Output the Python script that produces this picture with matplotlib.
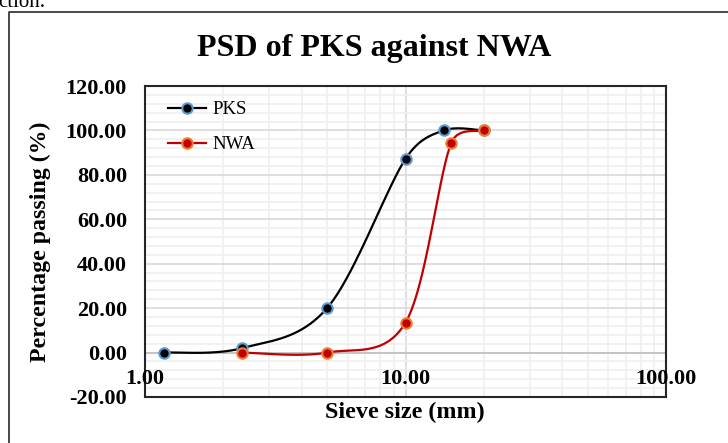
import numpy as np
import matplotlib
matplotlib.use('Agg')
import matplotlib.pyplot as plt
from matplotlib.lines import Line2D

# Data
pks_size = [1.18, 2.36, 5.0, 10.0, 14.0, 20.0]
pks_pass = [0.0, 2.0, 20.0, 87.2, 100.0, 100.0]
nwa_size = [2.36, 5.0, 10.0, 15.0, 20.0]
nwa_pass = [0.0, 0.0, 13.5, 94.5, 100.0]

x_ticks = [1, 10, 100]
x_tick_labels = ['1.00', '10.00', '100.00']
y_ticks = np.arange(-20, 121, 20)

plt.rcParams['font.family'] = ['Liberation Serif', 'DejaVu Serif']

W, H = 728, 443
fig = plt.figure(figsize=(W / 100, H / 100), dpi=100)
ax = fig.add_axes([145 / W, 1 - 397 / H, 521 / W, 311 / H])
ax.set_xscale('log')
ax.set_xlim(1, 100)
ax.set_ylim(-20, 120)

ax_w, ax_h = 521.0, 311.0


def arm(vec, seg_len):
    # control arm of 1/6 the neighbour chord, capped at half the segment
    a = vec / 6
    n = np.hypot(*a)
    if n > seg_len / 2 and n > 0:
        a = a * (seg_len / 2) / n
    return a


def smooth(xs, ys, n=40):
    # Excel-like smoothed line: bezier in screen space
    u = np.log10(xs) / 2 * ax_w
    v = (np.array(ys) + 20) / 140 * ax_h
    pts = np.column_stack([u, v])
    p = np.vstack([pts[0], pts, pts[-1]])
    out = []
    t = np.linspace(0, 1, n)[:, None]
    for i in range(1, len(p) - 2):
        p0, p1, p2, p3 = p[i - 1], p[i], p[i + 1], p[i + 2]
        seg = np.hypot(*(p2 - p1))
        b1 = p1 + arm(p2 - p0, seg)
        b2 = p2 - arm(p3 - p1, seg)
        c = ((1 - t) ** 3) * p1 + 3 * ((1 - t) ** 2) * t * b1 + 3 * (1 - t) * t ** 2 * b2 + t ** 3 * p2
        out.append(c)
    out = np.vstack(out)
    sx = 10 ** (out[:, 0] / ax_w * 2)
    sy = out[:, 1] / ax_h * 140 - 20
    return sx, sy


# grid
ax.set_xticks(x_ticks)
ax.set_xticks([m * d for d in (1, 10) for m in range(2, 10)], minor=True)
ax.set_yticks(y_ticks)
ax.set_yticks(np.arange(-20, 121, 4), minor=True)
ax.grid(which='minor', color='#EFEFEF', linewidth=1.2)
ax.grid(which='major', color='#D9D9D9', linewidth=1.2)
ax.axhline(0, color='#BFBFBF', linewidth=1.2, zorder=1)
ax.set_axisbelow(True)

sx, sy = smooth(pks_size, pks_pass)
ax.plot(sx, sy, color='black', linewidth=1.6, zorder=3)
sx, sy = smooth(nwa_size, nwa_pass)
ax.plot(sx, sy, color='#C00000', linewidth=1.6, zorder=3)
ax.plot(pks_size, pks_pass, 'o', color='black', markeredgecolor='#5B9BD5',
        markersize=7.5, markeredgewidth=1.5, zorder=4)
ax.plot(nwa_size, nwa_pass, 'o', color='#C00000', markeredgecolor='#ED7D31',
        markersize=7.5, markeredgewidth=1.5, zorder=5)

# axis labels in Excel style
ax.tick_params(which='both', length=0)
ax.set_yticklabels([f'{v:.2f}' for v in y_ticks], fontsize=16, fontweight='bold')
ax.tick_params(axis='y', pad=13)
ax.set_xticklabels([])
for xv, lab in zip(x_ticks, x_tick_labels):
    ax.text(xv, -11.8, lab, ha='center', va='center', fontsize=16,
            fontweight='bold', zorder=6)

for sp in ax.spines.values():
    sp.set_color('#262626')
    sp.set_linewidth(1.5)

handles = [
    Line2D([], [], color='black', linewidth=1.6, marker='o', markerfacecolor='black',
           markeredgecolor='#5B9BD5', markersize=7.5, markeredgewidth=1.5),
    Line2D([], [], color='#C00000', linewidth=1.6, marker='o', markerfacecolor='#C00000',
           markeredgecolor='#ED7D31', markersize=7.5, markeredgewidth=1.5),
]
ax.legend(handles, ['PKS', 'NWA'], loc='upper left', bbox_to_anchor=(0.03, 0.975),
          frameon=False, prop={'size': 13.5}, handlelength=2.0,
          handletextpad=0.35, labelspacing=0.95, borderaxespad=0)

fig.text(374 / W, 1 - 56 / H, 'PSD of PKS against NWA', ha='center', va='baseline',
         fontsize=23, fontweight='bold')
fig.text(405 / W, 1 - 412 / H, 'Sieve size (mm)', ha='center', va='center',
         fontsize=17.4, fontweight='bold')
fig.text(40 / W, 1 - 242 / H, 'Percentage passing (%)', ha='center', va='center',
         rotation=90, fontsize=17.2, fontweight='bold')

# page fragment and outer frame
fig.text(-2 / W, 1 - 7 / H, 'ction.', ha='left', va='baseline', fontsize=15)
fig.add_artist(Line2D([9 / W, 9 / W, 1], [0, 1 - 11.5 / H, 1 - 11.5 / H],
                      color='#3A3A3A', linewidth=1.3, transform=fig.transFigure))

fig.savefig('out.png', dpi=100)
